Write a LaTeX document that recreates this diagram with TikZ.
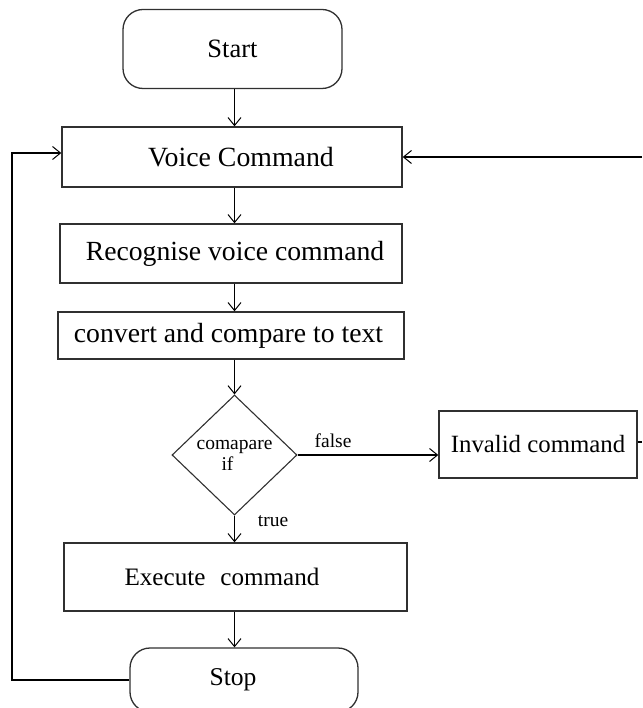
\documentclass[tikz,border=0pt]{standalone}
\usepackage{fontspec}
\setmainfont{Liberation Serif}
\usetikzlibrary{shapes.geometric,arrows.meta}
\definecolor{boxline}{HTML}{303030}
\tikzset{
  flowbox/.style={draw=boxline,line width=1.4pt,inner sep=0pt,rectangle},
  termbox/.style={draw=boxline,line width=1.3pt,inner sep=0pt,rectangle,rounded corners=20pt},
  decbox/.style={draw=boxline,line width=1.1pt,diamond,inner sep=0pt,align=center,
     font=\fontsize{19.5}{22}\selectfont},
  conn/.style={draw=black,line width=1.2pt},
  arr/.style={conn,-{Straight Barb[length=8pt,width=13pt,line width=1pt]}},
  lbl/.style={inner sep=0pt,font=\fontsize{19.5}{22}\selectfont}
}
\begin{document}
\begin{tikzpicture}[x=1pt,y=-1pt]
\useasboundingbox (0,0) rectangle (642,708);
\clip (0,0) rectangle (642,708);
\coordinate (spine) at (234.5,0);
% nodes
\node[termbox,minimum width=219pt,minimum height=79pt,font=\fontsize{26.5}{30}\selectfont] (start) at (232.5,49) {Start};
\node[flowbox,minimum width=340pt,minimum height=60pt,font=\fontsize{27.8}{30}\selectfont] (voice) at (232,157) {\hspace*{18pt}Voice Command};
\node[flowbox,minimum width=342pt,minimum height=59pt,font=\fontsize{27.7}{30}\selectfont] (recog) at (231,253.5) {\hspace*{8pt}Recognise voice command};
\node[flowbox,minimum width=346pt,minimum height=47pt,font=\fontsize{27.7}{30}\selectfont] (conv) at (231,335.5) {convert and compare to text\hspace*{5pt}};
\node[decbox,minimum width=125pt,minimum height=120pt] (dia) at (234.5,455) {comapare\\[-1pt]\hspace*{-14pt}if};
\node[flowbox,minimum width=198pt,minimum height=67pt,font=\fontsize{24.8}{28}\selectfont] (inv) at (538,444.5) {Invalid command};
\node[flowbox,minimum width=343pt,minimum height=68pt,font=\fontsize{25.1}{28}\selectfont] (exec) at (235.5,577) {Execute\hspace{15pt}command\hspace*{27pt}};
\node[termbox,minimum width=228pt,minimum height=64pt,font=\fontsize{25.6}{28}\selectfont] (stop) at (244,680) {Stop\hspace*{22pt}};
% labels
\node[lbl] (lfalse) at (333,441) {false};
\node[lbl] (ltrue) at (273,521) {true};
% free ends
\coordinate (rtop) at (642,157);
\coordinate (rinv) at (642,442);
\coordinate (lcol) at (12,0);
% connectors
\draw[arr] (start.south -| spine) -- (voice.north -| spine);
\draw[arr] (voice.south -| spine) -- (recog.north -| spine);
\draw[arr] (recog.south -| spine) -- (conv.north -| spine);
\draw[arr] (conv.south -| spine) -- (dia.north);
\draw[arr] (dia.south) -- (exec.north -| dia.south);
\draw[arr] (exec.south -| spine) -- (stop.north -| spine);
\draw[arr] (dia.east) -- (dia.east -| inv.west);
\draw[conn] (rinv -| inv.east) -- (rinv);
\draw[arr] (rtop) -- (voice.east |- rtop);
\draw[arr] (stop.west) -- (stop.west -| lcol) -- (lcol |- 0,153) -- (voice.west |- 0,153);
\end{tikzpicture}
\end{document}
